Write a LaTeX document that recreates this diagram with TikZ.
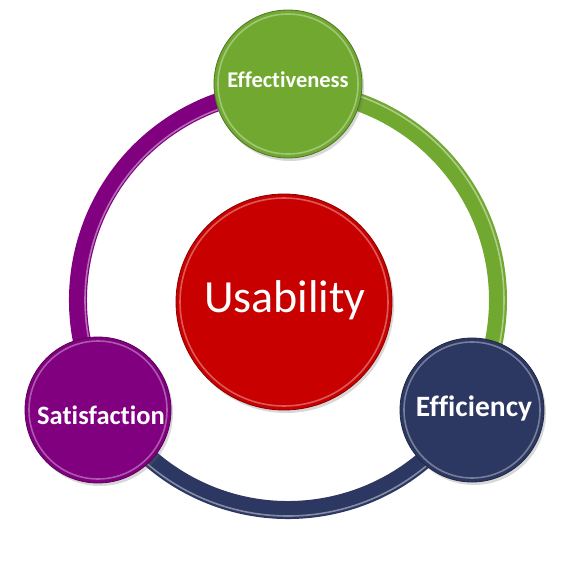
\documentclass[tikz,border=0pt]{standalone}
\usepackage{fontspec}
\setmainfont[Ligatures={NoCommon}]{Carlito}
\usetikzlibrary{shadows}
\definecolor{cgreen}{RGB}{112,168,48}
\definecolor{cnavy}{RGB}{44,56,98}
\definecolor{cpurple}{RGB}{128,0,128}
\definecolor{cred}{RGB}{200,0,0}
\tikzset{
  ringarc/.style={line width=18pt, line cap=round},
  ringhi/.style={line width=1.6pt, opacity=0.7},
  ball/.style={circle, inner sep=0pt, text=white, draw=#1!70!black, line width=0.8pt, fill=#1,
    drop shadow={shadow xshift=2pt, shadow yshift=-3pt, opacity=0.25, fill=black!60}},
  rim/.style={draw=white, line width=1.6pt, opacity=0.35},
}
\begin{document}
\begin{tikzpicture}[x=1pt,y=-1pt]
\useasboundingbox (0,0) rectangle (576,562);
\fill[white] (0,0) rectangle (576,562);
\coordinate (c) at (288,300);
% ring arcs
\draw[ringarc, draw=cgreen] ([shift={(-90:210)}]c) arc[start angle=-90, end angle=30, radius=210];
\draw[ringarc, draw=cnavy] ([shift={(30:210)}]c) arc[start angle=30, end angle=150, radius=210];
\draw[ringarc, draw=cpurple] ([shift={(150:210)}]c) arc[start angle=150, end angle=270, radius=210];
% highlights
\draw[ringhi, draw=cgreen!40!white] ([shift={(-80:216)}]c) arc[start angle=-80, end angle=25, radius=216];
\draw[ringhi, draw=cnavy!40!white] ([shift={(40:216)}]c) arc[start angle=40, end angle=140, radius=216];
\draw[ringhi, draw=cpurple!40!white] ([shift={(160:203)}]c) arc[start angle=160, end angle=260, radius=203];
% circles
\node[ball=cred, minimum size=216pt] (usab) at (284,302) {};
\node[ball=cgreen, minimum size=148pt] (eff) at (288,84) {};
\node[ball=cnavy, minimum size=144pt] (effi) at (472,410) {};
\node[ball=cpurple, minimum size=146pt] (sat) at (98,410) {};
\draw[rim] (usab.center) circle[radius=104];
\draw[rim] (eff.center) circle[radius=70];
\draw[rim] (effi.center) circle[radius=68];
\draw[rim] (sat.center) circle[radius=69];
% labels
\node[text=white, font=\fontsize{46}{46}\selectfont] at (285,300) {Usability};
\node[text=white, font=\bfseries\fontsize{22.5}{22.5}\selectfont] at (288,80) {Effectiveness};
\node[text=white, font=\bfseries\fontsize{29.5}{29.5}\selectfont] at (474,408) {Efficiency};
\node[text=white, font=\bfseries\fontsize{26.5}{26.5}\selectfont] at (101,415) {Satisfaction};
\end{tikzpicture}
\end{document}
